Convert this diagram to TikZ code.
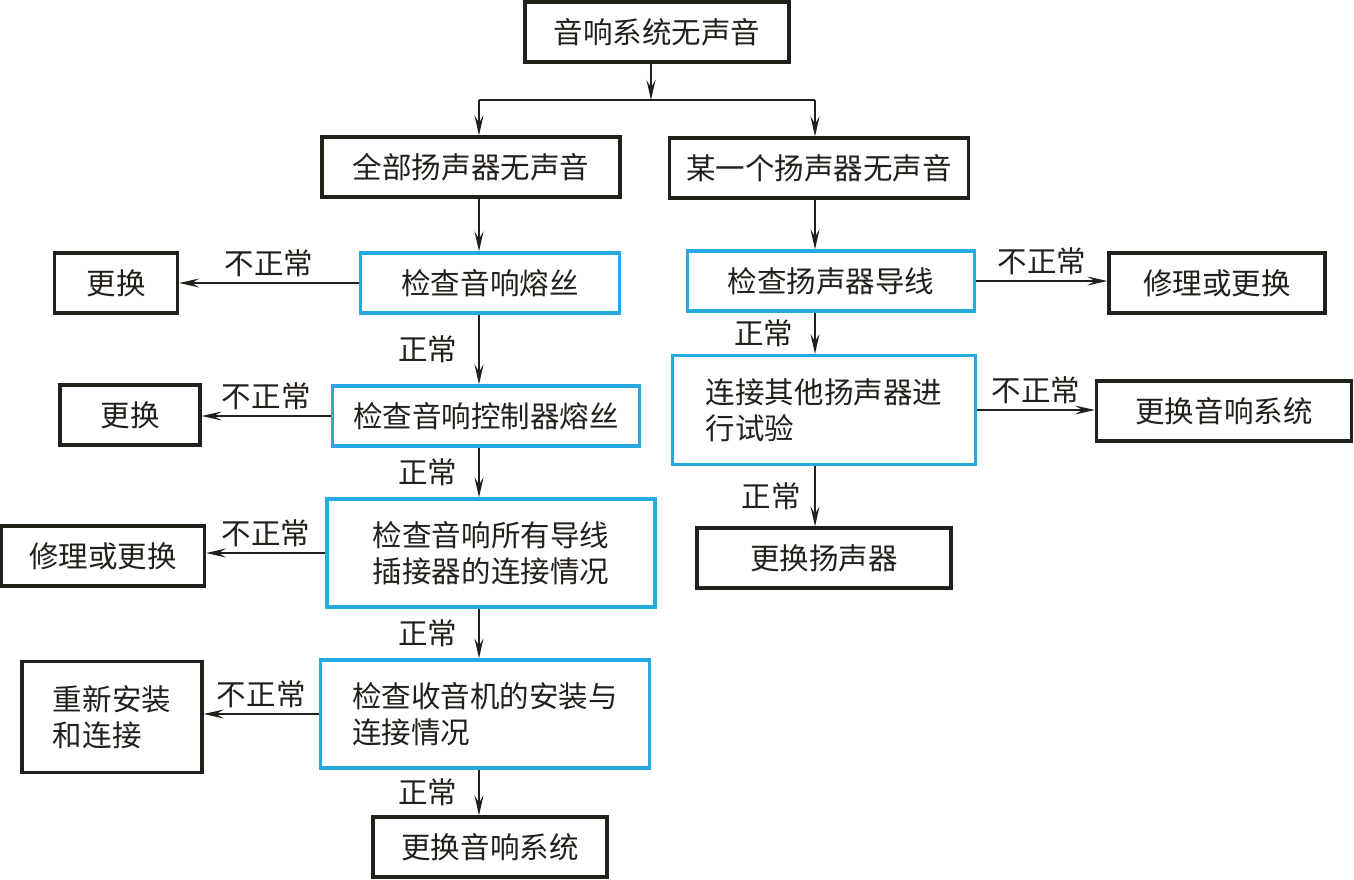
\documentclass[tikz,border=0pt]{standalone}
\usepackage{fontspec}
\setmainfont{Noto Sans CJK SC}
\usetikzlibrary{arrows.meta,positioning}
\definecolor{darkline}{RGB}{35,31,26}
\definecolor{checkblue}{RGB}{38,168,224}

\begin{document}
\begin{tikzpicture}[x=0.02cm,y=-0.02cm,
    font=\fontsize{16.8}{20.5}\selectfont,
    box/.style={draw=darkline, text=darkline, line width=1.9pt, minimum height=1.2cm, inner sep=2pt},
    checkbox/.style={box, draw=checkblue},
    conn/.style={draw=darkline, line width=0.8pt},
    arr/.style={conn, -{Stealth[length=4mm,width=1.8mm,inset=1.5mm]}},
    nolbl/.style={above, text=darkline},
    oklbl/.style={left, text=darkline, xshift=-0.3cm}]

\useasboundingbox (0,0) rectangle (1354,879);

% top
	\node[box, minimum width=5.28cm] (sys) at (657,32) {音响系统无声音};
	\node[box, minimum width=5.96cm] (allspk) at (471,167) {全部扬声器无声音};
	\node[box, minimum width=5.98cm] (onespk) at (819,168) {某一个扬声器无声音};

% left column
	\node[checkbox, minimum width=5.18cm] (fuse) at (490,283) {检查音响熔丝};
	\node[box, minimum width=2.46cm] (rep1) at (116,283) {更换};
	\node[checkbox, minimum width=6.14cm] (ctlfuse) at (486,416) {检查音响控制器熔丝};
	\node[box, minimum width=2.8cm] (rep2) at (130,415) {更换};
	\node[checkbox, minimum width=6.56cm, minimum height=2.16cm, align=center] (wires) at (491,553) {检查音响所有导线\\插接器的连接情况};
	\node[box, minimum width=4.06cm] (fix1) at (103,556) {修理或更换};
	\node[checkbox, minimum width=6.58cm, minimum height=2.16cm, align=left] (radio) at (485,714) {检查收音机的安装与\\连接情况};
	\node[box, minimum width=3.6cm, minimum height=2.22cm, align=left] (reinst) at (112,717) {重新安装\\和连接};
	\node[box, minimum width=4.68cm] (newsys1) at (490,847) {更换音响系统};

% right column
	\node[checkbox, minimum width=5.74cm] (spkwire) at (831,281) {检查扬声器导线};
	\node[box, minimum width=4.32cm] (fix2) at (1217,283) {修理或更换};
	\node[checkbox, minimum width=6.06cm, minimum height=2.18cm, align=left] (trial) at (824,410) {连接其他扬声器进\\行试验};
	\node[box, minimum width=5.1cm] (newsys2) at (1224,411) {更换音响系统};
	\node[box, minimum width=5.08cm] (newspk) at (824,558) {更换扬声器};

	\coordinate (split) at (651,100);
	\coordinate (colL) at (479,0);
	\coordinate (colR) at (815,0);

% connectors
	\draw[arr] (sys.south -| split) -- (split);
	\draw[conn] (colL |- split) -- (colR |- split);
	\draw[arr] (colL |- split) -- (colL |- allspk.north);
	\draw[arr] (colR |- split) -- (colR |- onespk.north);

	\draw[arr] (colL |- allspk.south) -- (colL |- fuse.north);
	\draw[arr] (fuse.west) -- node[nolbl] {不正常} (fuse.west -| rep1.east);
	\draw[arr] (colL |- fuse.south) -- node[oklbl] {正常} (colL |- ctlfuse.north);
	\draw[arr] (ctlfuse.west) -- node[nolbl] {不正常} (ctlfuse.west -| rep2.east);
	\draw[arr] (colL |- ctlfuse.south) -- node[oklbl] {正常} (colL |- wires.north);
	\draw[arr] (wires.west) -- node[nolbl] {不正常} (wires.west -| fix1.east);
	\draw[arr] (colL |- wires.south) -- node[oklbl] {正常} (colL |- radio.north);
	\draw[arr] (radio.west) -- node[nolbl] {不正常} (radio.west -| reinst.east);
	\draw[arr] (colL |- radio.south) -- node[oklbl] {正常} (colL |- newsys1.north);

	\draw[arr] (colR |- onespk.south) -- (colR |- spkwire.north);
	\draw[arr] (spkwire.east) -- node[nolbl] {不正常} (spkwire.east -| fix2.west);
	\draw[arr] (colR |- spkwire.south) -- node[oklbl] {正常} (colR |- trial.north);
	\draw[arr] (trial.east) -- node[nolbl] {不正常} (trial.east -| newsys2.west);
	\draw[arr] (colR |- trial.south) -- node[oklbl, xshift=0.15cm] {正常} (colR |- newspk.north);

\end{tikzpicture}
\end{document}
